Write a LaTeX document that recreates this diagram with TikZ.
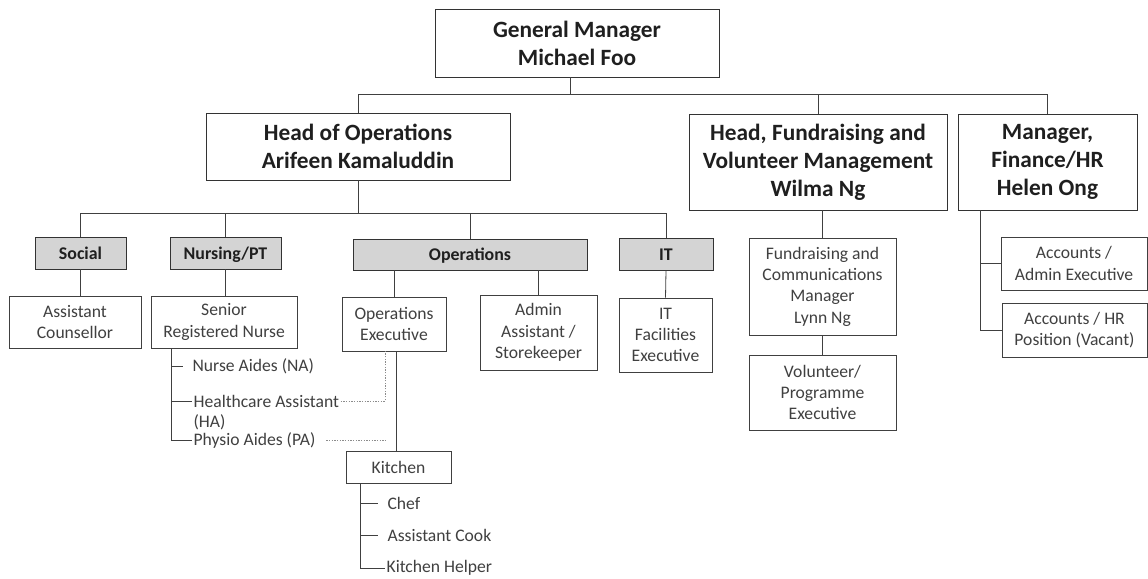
\documentclass[tikz,border=0pt]{standalone}
\usepackage{fontspec}
\setmainfont{Carlito}
\usepackage{tikz}
\usetikzlibrary{positioning}

\begin{document}
\begin{tikzpicture}[
    x=0.75pt, y=-0.75pt,
    headbox/.style={
        draw=black!80,
        fill=white,
        align=center,
        inner sep=2pt,
        text=black!88,
        font=\fontsize{17.5}{21}\selectfont\bfseries,
    },
    unitbox/.style={
        draw=black!80,
        fill=black!17,
        align=center,
        inner sep=1pt,
        text height=11pt,
        text depth=2pt,
        text=black!88,
        font=\fontsize{13.4}{16}\selectfont\bfseries,
    },
    rolebox/.style={
        draw=black!75,
        fill=white,
        align=center,
        inner sep=1pt,
        text=black!75,
        font=\fontsize{13.2}{16}\selectfont,
    },
    item/.style={
        anchor=west,
        inner xsep=1pt,
        inner ysep=0pt,
        text=black!75,
        font=\fontsize{13.2}{16}\selectfont,
    },
    itemgap/.style={item, inner xsep=7pt},
    link/.style={draw=black!75, line width=0.6pt},
    dotlink/.style={draw=black!45, line width=0.6pt, dash pattern=on 1pt off 1pt},
]
\useasboundingbox[fill=white] (0,0) rectangle (1148,578);

\node[headbox, minimum width=213pt, minimum height=51pt] (gm) at (577,43) {General Manager\\Michael Foo};

\node[headbox, minimum width=228pt, minimum height=50.25pt] (hops) at (358,146.5) {Head of Operations\\Arifeen Kamaluddin};
\node[headbox, minimum width=193.5pt, minimum height=72pt] (hfund) at (818,162) {Head, Fundraising and\\Volunteer Management\\Wilma Ng};
\node[headbox, minimum width=134.25pt, minimum height=72pt] (mfin) at (1047.5,162) {Manager,\\Finance/HR\\Helen Ong};

\node[unitbox, minimum width=68.25pt, minimum height=24pt] (social) at (80.5,253) {Social};
\node[unitbox, minimum width=83.25pt, minimum height=24pt] (nursing) at (225.5,253) {Nursing/PT};
\node[unitbox, minimum width=175.5pt, minimum height=23.25pt] (operations) at (470,254.5) {Operations};
\node[unitbox, minimum width=70.5pt, minimum height=24pt] (it) at (666,254) {IT};

\node[rolebox, minimum width=99pt, minimum height=39pt] (ac) at (75,322) {Assistant\\Counsellor};
\node[rolebox, minimum width=109.5pt, minimum height=39pt] (srn) at (224,322) {Senior\\Registered Nurse};
\node[rolebox, minimum width=78pt, minimum height=40.5pt] (opsexec) at (394,324) {Operations\\Executive};
\node[rolebox, minimum width=87.75pt, minimum height=56.25pt] (admin) at (538.5,332.5) {Admin\\Assistant /\\Storekeeper};
\node[rolebox, minimum width=69.75pt, minimum height=55.5pt] (itfac) at (665.5,335) {IT\\Facilities\\Executive};
\node[rolebox, minimum width=110.25pt, minimum height=72.75pt] (fundmgr) at (822.5,286.5) {Fundraising and\\Communications\\Manager\\Lynn Ng};
\node[rolebox, minimum width=110.25pt, minimum height=56.25pt] (volunteer) at (822.5,392.5) {Volunteer/\\Programme\\Executive};
\node[rolebox, minimum width=109.5pt, minimum height=39.75pt] (accadmin) at (1074,263.5) {Accounts /\\Admin Executive};
\node[rolebox, minimum width=108.75pt, minimum height=40.5pt] (acchr) at (1074.5,330) {Accounts / HR\\Position (Vacant)};
\node[rolebox, minimum width=78.75pt, minimum height=24pt] (kitchen) at (398.5,467) {Kitchen};

\node[itemgap] (na) at (183,366) {Nurse Aides (NA)};
\node[item] (ha) at (192,401) {Healthcare Assistant};
\node[item] (hab) at (192,422) {(HA)};
\node[item] (pa) at (192,440) {Physio Aides (PA)};
\node[itemgap] (chef) at (378,503) {Chef};
\node[itemgap] (cook) at (378,535) {Assistant Cook};
\node[item] (helper) at (385,568) {Kitchen Helper};

\coordinate (topbus) at (0,94);
\coordinate (opsbus) at (0,213);
\coordinate (nursebar) at (171,0);
\coordinate (dotbar) at (385,0);
\coordinate (kitbar) at (360,0);
\coordinate (finbar) at (980,0);

\draw[link] ([xshift=-5pt]gm.south) -- ([xshift=-5pt]gm.south |- topbus);
\draw[link] (hops.north) |- (topbus -| mfin.north) -- (mfin.north);
\draw[link] (hfund.north) -- (hfund.north |- topbus);

\draw[link] (hops.south) -- (hops.south |- opsbus);
\draw[link] (social.north) |- (opsbus -| it.north) -- (it.north);
\draw[link] (nursing.north) -- (nursing.north |- opsbus);
\draw[link] (operations.north) -- (operations.north |- opsbus);

\draw[link] (social.south) -- (social.south |- ac.north);
\draw[link] (nursing.south) -- (nursing.south |- srn.north);
\draw[link] (opsexec.north) -- (opsexec.north |- operations.south);
\draw[link] (admin.north) -- (admin.north |- operations.south);
\draw[link] (it.south) -- (itfac.north);

\draw[link] (fundmgr.north) -- (fundmgr.north |- hfund.south);
\draw[link] (fundmgr) -- (volunteer);
\draw[link] (finbar |- mfin.south) |- (acchr.west);
\draw[link] (finbar |- accadmin.west) -- (accadmin.west);

\draw[link] (nursebar |- srn.south) |- (pa.west);
\draw[link] (nursebar |- na.west) -- (na.west);
\draw[link] (nursebar |- ha.west) -- (ha.west);
\draw[dotlink] (ha.east) -| (dotbar |- opsexec.south);
\draw[dotlink] ([xshift=7pt]pa.east) -- (pa.east -| dotbar);

\draw[link] ([xshift=1.5pt]opsexec.south) -- ([xshift=1.5pt]opsexec.south |- kitchen.north);
\draw[link] (kitbar |- kitchen.south) |- (helper.west);
\draw[link] (kitbar |- chef.west) -- (chef.west);
\draw[link] (kitbar |- cook.west) -- (cook.west);
\end{tikzpicture}
\end{document}
